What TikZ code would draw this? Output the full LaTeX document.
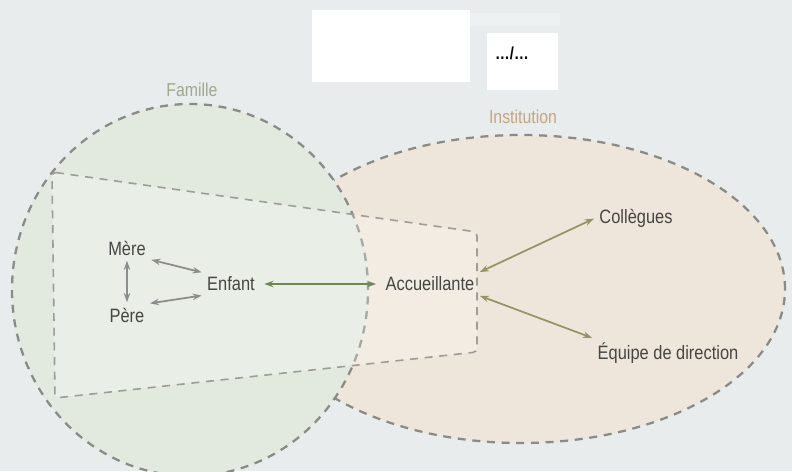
\documentclass[tikz,border=0pt]{standalone}
\usepackage{fontspec}
\setmainfont{Liberation Sans}[FakeStretch=0.85]
\usepackage{tikz}
\usetikzlibrary{arrows.meta}
\definecolor{bgc}{HTML}{E8ECED}
\definecolor{famfill}{HTML}{E2E9DF}
\definecolor{instfill}{HTML}{EEE6DA}
\definecolor{dashc}{HTML}{8A8A86}
\definecolor{txt}{HTML}{454545}
\definecolor{famtxt}{HTML}{A0A88E}
\definecolor{insttxt}{HTML}{C4A57E}
\definecolor{greyarr}{HTML}{8C8C8C}
\definecolor{kidarr}{HTML}{6C8953}
\definecolor{instarr}{HTML}{989266}
\tikzset{
  lbl/.style={font=\fontsize{14.5}{16}\selectfont, text=txt, inner sep=3pt},
  zone/.style={font=\fontsize{14}{16}\selectfont},
  arr/.style={{Stealth[length=2.4mm,width=1.7mm]}-{Stealth[length=2.4mm,width=1.7mm]},
              line width=1.3pt, draw=greyarr, shorten <=1pt, shorten >=1pt},
  border/.style={dash pattern=on 6pt off 5pt, line width=1.7pt, draw=dashc},
}

\begin{document}
\begin{tikzpicture}[x=0.75pt,y=-0.75pt]
  \fill[bgc] (0,0) rectangle (792,471);
  \useasboundingbox (0,0) rectangle (792,471);
  % header boxes
  \fill[white] (312,10) rectangle (470,82);
  \fill[white,opacity=.3] (470,13) rectangle (560,26);
  \fill[white] (487,33) rectangle (558,90);
  \node[font=\fontsize{13}{13}\selectfont\bfseries] (page) at (512,53) {…/…};
  % zones
  \draw[border, fill=instfill] (521,289) ellipse [x radius=198pt, y radius=115.5pt];
  \draw[border, fill=famfill] (190,290) ellipse [x radius=133.5pt, y radius=139.5pt];
  \draw[border, line width=1.2pt, draw=dashc!85, fill=white, fill opacity=.25, rounded corners=3pt]
    (52,172) -- (477,232) -- (477,352) -- (55,398) -- cycle;
  \node[zone, text=famtxt] (famille) at (192,90) {Famille};
  \node[zone, text=insttxt] (institution) at (523,117) {Institution};
  % people
  \node[lbl] (mere) at (127,248) {Mère};
  \node[lbl] (pere) at (127,315) {Père};
  \node[lbl] (enfant) at (231,284) {Enfant};
  \node[lbl] (acc) at (430,284) {Accueillante};
  \node[lbl] (coll) at (636,218) {Collègues};
  \node[lbl] (equipe) at (668,353) {Équipe de direction};
  % links
  \draw[arr] (mere) -- (pere);
  \draw[arr] (mere.south east) -- (enfant.north west);
  \draw[arr] (pere.north east) -- (enfant.south west);
  \draw[arr, draw=kidarr, line width=1.8pt, shorten <=4pt, shorten >=4pt] (enfant) -- (acc);
  \draw[arr, draw=instarr] (acc.north east) -- (coll.west);
  \draw[arr, draw=instarr] (acc.south east) -- (equipe.north west);
\end{tikzpicture}
\end{document}
